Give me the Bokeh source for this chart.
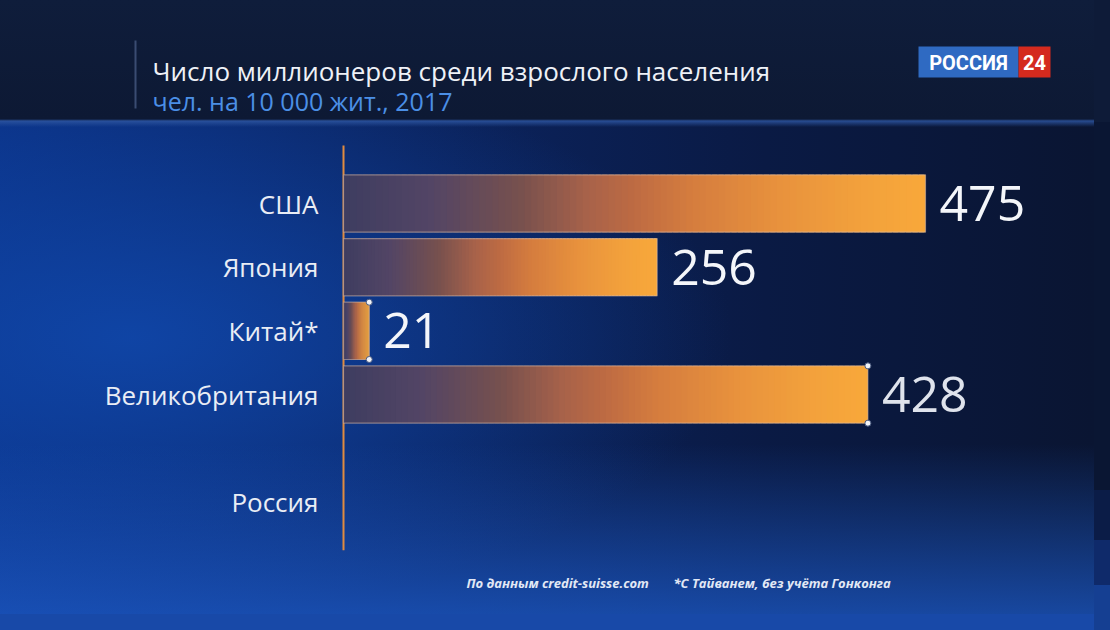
from bokeh.plotting import figure
from bokeh.layouts import column
from bokeh.models import FactorRange, Range1d, ColumnDataSource
from bokeh.core.properties import value
from bokeh.embed import file_html
from bokeh.resources import INLINE

# ---- data ----
countries = ["США", "Япония", "Китай*", "Великобритания", "Россия"]
groups = ["a", "a", "a", "a", "b"]
values = [475, 256, 21, 428, None]
label_colors = ["#f4f6fa", "#f4f6fa", "#f4f6fa", "#dfe3ec", "#f4f6fa"]
handles = ["Китай*", "Великобритания"]
title_text = "Число миллионеров среди взрослого населения"
subtitle_text = "чел. на 10 000 жит., 2017"
source_note = "По данным credit-suisse.com"
footnote = "*С Тайванем, без учёта Гонконга"
logo_words = ["РОССИЯ", "24"]

# ---- style ----
FONT = "Open Sans"
W = 1094
H_HEAD, H_MAIN, H_FOOT = 144, 417, 53
stops = [(0.0, "#3e3d60"), (0.15, "#534565"), (0.3, "#76504e"), (0.42, "#a8624a"),
         (0.5, "#be6b43"), (0.6, "#d57d3e"), (0.75, "#e8923d"), (0.9, "#f3a23c"),
         (1.0, "#f8a83a")]


def hex2rgb(h):
    h = h.lstrip("#")
    return tuple(int(h[i:i + 2], 16) for i in (0, 2, 4))


def grad(t):
    for (t0, c0), (t1, c1) in zip(stops[:-1], stops[1:]):
        if t0 <= t <= t1:
            f = (t - t0) / (t1 - t0)
            a, b = hex2rgb(c0), hex2rgb(c1)
            return "#%02x%02x%02x" % tuple(round(a[i] + (b[i] - a[i]) * f) for i in range(3))
    return stops[-1][1]


def bare(fig):
    fig.grid.visible = False
    fig.outline_line_color = None
    fig.background_fill_alpha = 0
    fig.border_fill_alpha = 0
    return fig


def panel(h):
    return bare(figure(width=W, height=h, output_backend="svg", toolbar_location=None,
                       x_range=Range1d(0, W), y_range=Range1d(h, 0),
                       x_axis_location=None, y_axis_location=None,
                       min_border=0))


# ---------- header ----------
head = panel(H_HEAD)
head.segment(x0=[135], y0=[40], x1=[135], y1=[108], line_color="#3a4c72", line_width=2)
head.text(x=[152], y=[70], text=[title_text], text_font=value(FONT), text_font_size="26px",
          text_color="#eef1f7", text_baseline="middle", text_align="left")
head.text(x=[152], y=[100], text=[subtitle_text], text_font=value(FONT), text_font_size="25px",
          text_color="#4b8fe6", text_baseline="middle", text_align="left")
head.quad(left=[918, 1018], right=[1018, 1050], top=[46, 46], bottom=[77, 77],
          fill_color=["#2f6ac2", "#d42a1e"], line_color=None)
head.text(x=[968, 1034], y=[62, 62], text=logo_words, text_font=value("Roboto"),
          text_font_style="bold", text_font_size="20px", text_color="#ffffff",
          text_baseline="middle", text_align="center")

# ---------- main chart ----------
PX = 582 / 475  # pixels per unit
factors = [(g, c) for g, c in zip(groups, countries)][::-1]
main = bare(figure(width=W, height=H_MAIN, output_backend="svg", toolbar_location=None,
                   x_range=Range1d(-343 / PX, (W - 343) / PX),
                   y_range=FactorRange(*factors, group_padding=0.696, factor_padding=0,
                                       range_padding=0.427, range_padding_units="absolute"),
                   x_axis_location=None, y_axis_location=None, min_border=0))

# vertical axis line (categorical offsets beyond first/last rows)
axsrc = ColumnDataSource(dict(x0=[0], x1=[0],
                              y0=[(groups[0], countries[0], 0.91)],
                              y1=[(groups[-1], countries[-1], -0.75)]))
main.segment(x0="x0", y0="y0", x1="x1", y1="y1", source=axsrc,
             line_color="#e08b40", line_width=2)

N = 90
sl = dict(y=[], left=[], right=[], color=[])
for g, c, v in zip(groups, countries, values):
    if v is None:
        continue
    for k in range(N):
        sl["y"].append((g, c))
        sl["left"].append(v * k / N)
        sl["right"].append(v * min(k + 1.8, N) / N)
        sl["color"].append(grad((k + 0.5) / N))
main.hbar(y="y", left="left", right="right", height=0.9, fill_color="color",
          line_color=None, source=ColumnDataSource(sl))

keep = [i for i, v in enumerate(values) if v is not None]
bars = dict(y=[(groups[i], countries[i]) for i in keep],
            v=[values[i] for i in keep],
            label=[str(values[i]) for i in keep],
            color=[label_colors[i] for i in keep])
bsrc = ColumnDataSource(bars)
main.hbar(y="y", left=0, right="v", height=0.9, fill_color=None,
          line_color="#e2c2ae", line_alpha=0.5, line_width=1.2, source=bsrc)

# selection handles on bar corners
hx, hy = [], []
for g, c, v in zip(groups, countries, values):
    if c in handles and v is not None:
        for off in (0.45, -0.45):
            hx.append(v)
            hy.append((g, c, off))
main.scatter(x="x", y="y", source=ColumnDataSource(dict(x=hx, y=hy)), size=6,
             fill_color="#f2f4f8", line_color="#4a5a80", line_width=1)

main.text(x="v", y="y", text="label", source=bsrc, x_offset=14,
          text_font=value(FONT), text_font_size="50px", text_color="color",
          text_baseline="middle", text_align="left")

csrc = ColumnDataSource(dict(y=[(g, c) for g, c in zip(groups, countries)],
                             x=[0] * len(countries), name=countries))
main.text(x="x", y="y", text="name", source=csrc, x_offset=-25,
          text_font=value(FONT), text_font_size="26px", text_color="#e9edf5",
          text_baseline="middle", text_align="right")

# ---------- footer ----------
foot = panel(H_FOOT)
foot.text(x=[466, 673], y=[21, 21], text=[source_note, footnote], text_font=value(FONT),
          text_font_style="bold italic", text_font_size="13px", text_color="#e2e8f5",
          text_baseline="middle", text_align="left")

layout = column(head, main, foot, spacing=0)
layout.styles = {
    "background": (
        "linear-gradient(to bottom, #0f1d3b 0px, #0d1934 119px, rgba(45,85,160,0.85) 121px, rgba(13,25,52,0) 127px),"
        "linear-gradient(to top, rgba(28,88,195,0.75) 0px, rgba(28,88,195,0) 170px),"
        "radial-gradient(ellipse 55% 45% at 12% 55%, rgba(16,72,172,0.85), rgba(16,72,172,0)),"
        "linear-gradient(to right, #0b3286 0%, #0b2460 38%, #0a1a44 70%, #0a1532 100%)"
    ),
    "box-shadow": ("0 16px 0 0 #1849a8, "
                   "16px 585px 0 0 #153f92, "
                   "16px 540px 0 0 #0f2a6a, "
                   "16px 490px 0 0 #0b1c47, "
                   "16px 122px 0 0 #0a1633, "
                   "16px 0 0 0 #0e1b38"),
}

open("out.html", "w").write(file_html(layout, INLINE))
